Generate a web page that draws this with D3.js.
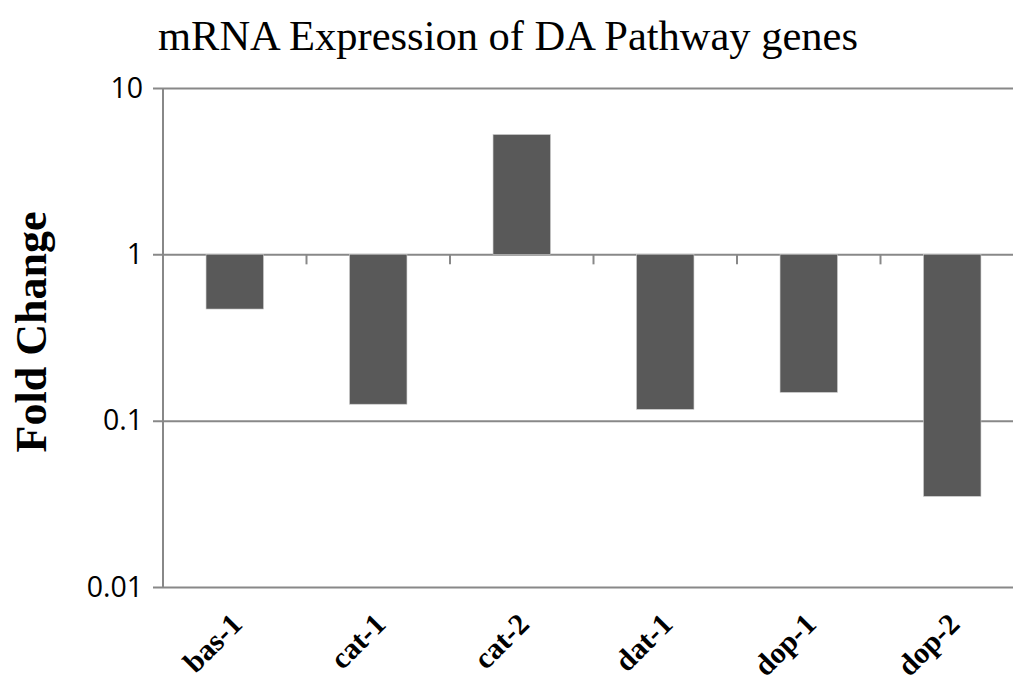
<!DOCTYPE html>
<html>
<head>
<meta charset="utf-8">
<script src="https://cdn.jsdelivr.net/npm/d3@7"></script>
<style>
  body { margin: 0; background: #fff; }
  svg { display: block; }
</style>
</head>
<body>
<svg width="1013" height="682"></svg>
<script>
// ---------------------------  data  -----------------
var genes = ["bas-1", "cat-1", "cat-2", "dat-1", "dop-1", "dop-2"];
var foldChange = [0.469, 0.1256, 5.25, 0.117, 0.148, 0.0351];
var yTicks = [10, 1, 0.1, 0.01];
var yTickLabels = ["10", "1", "0.1", "0.01"];

var svg = d3.select("svg");

var plotL = 163, plotR = 1024, plotT = 88, plotB = 587;
var gridColor = "#888888";

var x = d3.scaleBand()
          .domain(genes)
          .range([plotL, plotR])
          .paddingInner(0.6)
          .paddingOuter(0.3);

var y = d3.scaleLog()
          .domain([0.01, 10])
          .range([plotB, plotT]);

// gridlines + y tick labels
var yAxis = d3.axisLeft(y)
              .tickValues(yTicks)
              .tickSize(-(plotR - plotL))
              .tickSizeOuter(0)
              .tickPadding(20)
              .tickFormat((d, i) => yTickLabels[i]);

var gy = svg.append("g")
    .attr("transform", "translate(" + plotL + ",0)")
    .call(yAxis);
gy.attr("font-size", 28.5)
  .attr("font-family", "'Open Sans', 'Noto Sans', sans-serif");
gy.select(".domain").remove();
gy.selectAll(".tick line")
    .attr("x1", -10)
    .attr("stroke", gridColor)
    .attr("stroke-width", 2);
gy.selectAll(".tick text")
    .attr("fill", "#000");

// vertical axis line
svg.append("line")
    .attr("x1", plotL).attr("x2", plotL)
    .attr("y1", plotT).attr("y2", plotB)
    .attr("stroke", gridColor)
    .attr("stroke-width", 2);

// bars, from 1 up or down
svg.selectAll("rect.bar")
    .data(foldChange)
    .enter().append("rect")
    .attr("class", "bar")
    .attr("x", (d, i) => x(genes[i]))
    .attr("width", x.bandwidth())
    .attr("y", d => Math.min(y(d), y(1)))
    .attr("height", d => Math.abs(y(d) - y(1)))
    .attr("fill", "#595959")
    .attr("stroke", "#c8c8c8")
    .attr("stroke-width", 0.6);

// category ticks along the 1 line
var step = x.step();
svg.selectAll("line.ctick")
    .data(genes.slice(1))
    .enter().append("line")
    .attr("class", "ctick")
    .attr("x1", d => x(d) - step * x.paddingInner() / 2)
    .attr("x2", d => x(d) - step * x.paddingInner() / 2)
    .attr("y1", y(1))
    .attr("y2", y(1) + 10)
    .attr("stroke", gridColor)
    .attr("stroke-width", 2);

// category labels, rotated
svg.selectAll("text.cat")
    .data(genes)
    .enter().append("text")
    .attr("class", "cat")
    .attr("transform", d => "translate(" + (x(d) + x.bandwidth() / 2 + 9) + ",626) rotate(-45)")
    .attr("text-anchor", "end")
    .style("font-family", "'Liberation Serif', 'Times New Roman', serif")
    .style("font-weight", "bold")
    .style("font-size", "30px")
    .text(d => d);

// title
svg.append("text")
    .attr("x", 158)
    .attr("y", 50)
    .style("font-family", "'Liberation Serif', 'Times New Roman', serif")
    .style("font-size", "42.5px")
    .text("mRNA Expression of DA Pathway genes");

// y axis title
svg.append("text")
    .attr("transform", "translate(46,332) rotate(-90)")
    .attr("text-anchor", "middle")
    .style("font-family", "'Liberation Serif', 'Times New Roman', serif")
    .style("font-weight", "bold")
    .style("font-size", "44px")
    .text("Fold Change");
</script>
</body>
</html>
